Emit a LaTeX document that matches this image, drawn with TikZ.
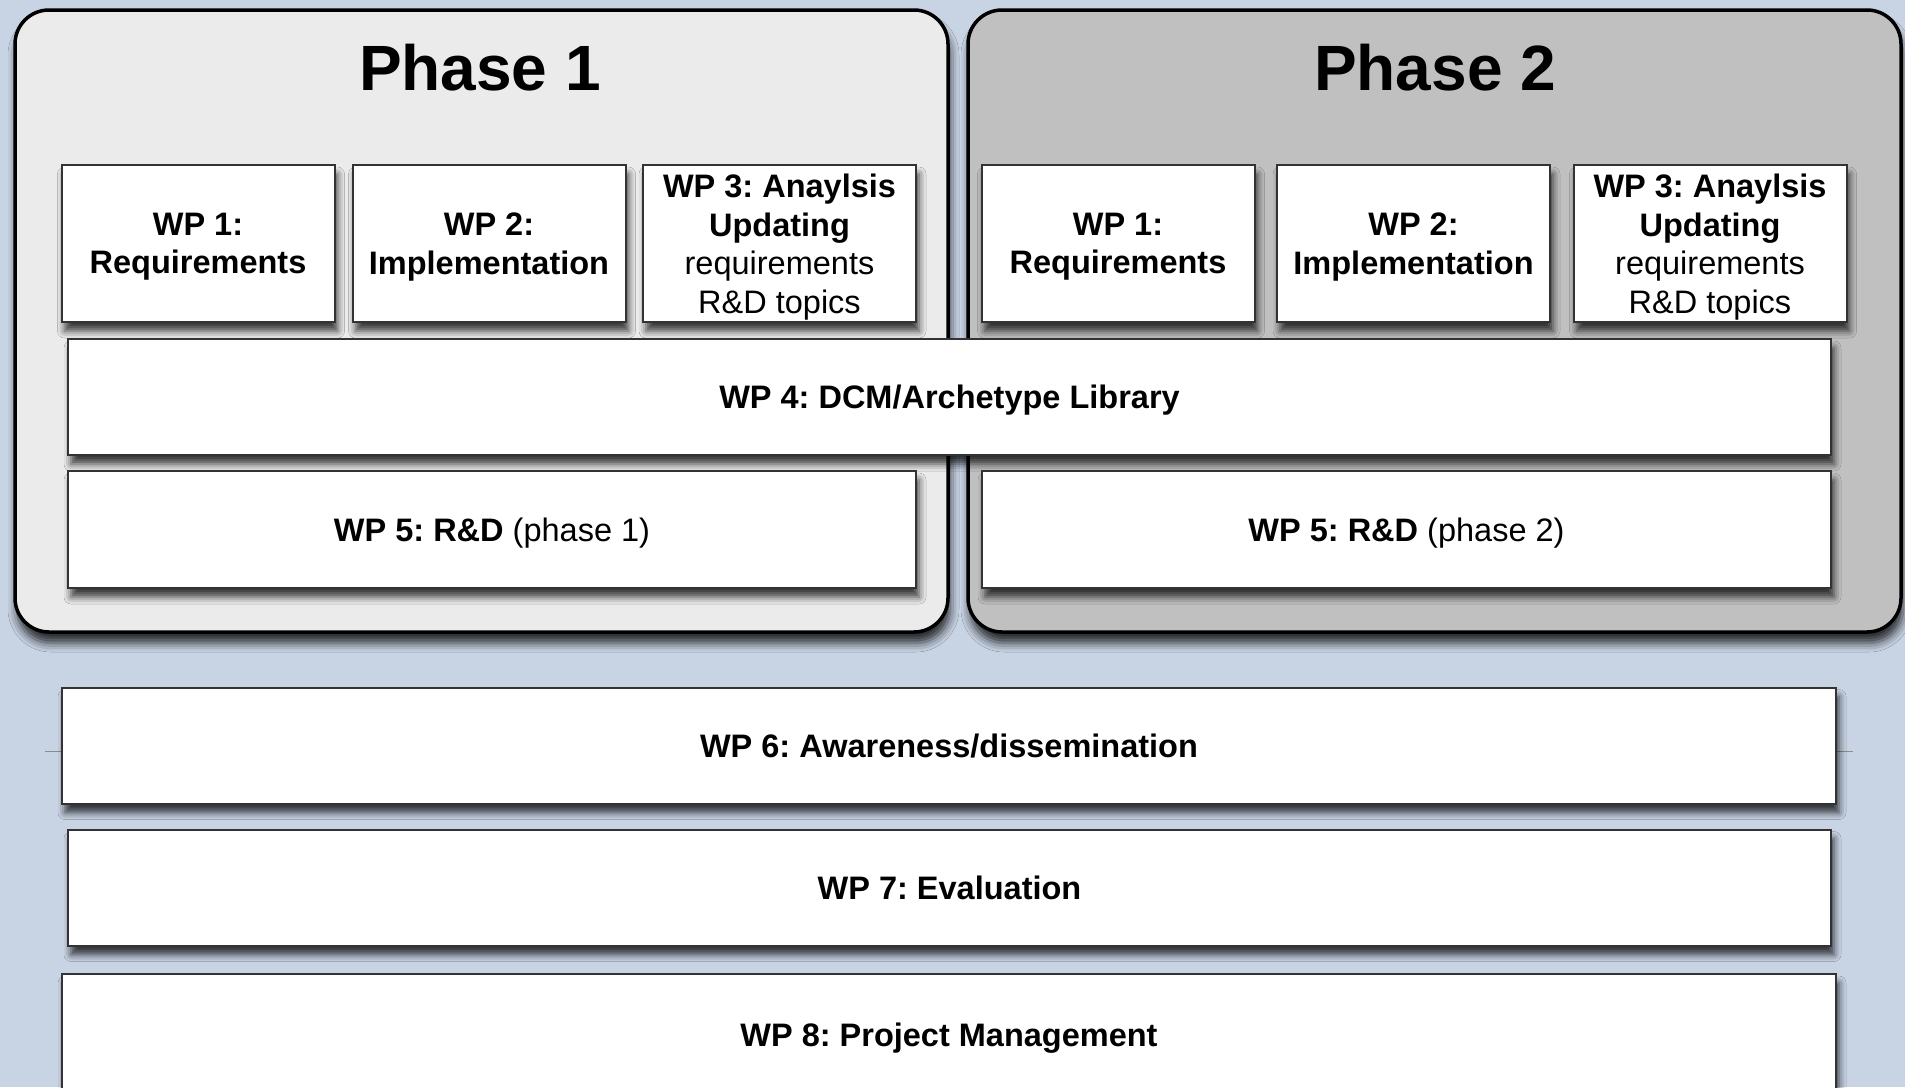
\documentclass[tikz,border=0pt]{standalone}
\usepackage{fontspec}
\setmainfont{Liberation Sans}
\usetikzlibrary{shadows.blur}
\frenchspacing
\definecolor{bgblue}{RGB}{200,211,228}
\definecolor{phaseone}{RGB}{235,235,235}
\definecolor{phasetwo}{RGB}{192,192,192}
\tikzset{
    phasebox/.style={draw=black, line width=3.5pt, rounded corners=34pt, minimum width=933pt, minimum height=622pt,
        blur shadow={shadow xshift=2pt, shadow yshift=-11pt, shadow blur radius=9pt, shadow opacity=80}},
    phasetitle/.style={anchor=base, font=\fontsize{64}{70}\selectfont\bfseries},
    wpbox/.style={draw=black!80, line width=2pt, fill=white, align=center, inner sep=0pt, text depth=0pt,
        font=\fontsize{32.5}{38.5}\selectfont\bfseries,
        blur shadow={shadow xshift=3pt, shadow yshift=-9pt, shadow blur radius=7pt, shadow opacity=75}},
    wpsmall/.style={wpbox, minimum width=273pt, minimum height=157pt, text depth=-4pt},
    wpwide/.style={wpbox, minimum width=1763pt, minimum height=116pt}
}
\begin{document}
\begin{tikzpicture}[x=1pt, y=-1pt]
    \useasboundingbox (0,0) rectangle (1905,1087);
    \fill[bgblue] (0,0) rectangle (1905,1087);
    \clip (0,0) rectangle (1905,1087);
    % fasi
    \node[phasebox, fill=phaseone] (ph1) at (481.5,321) {};
    \node[phasebox, fill=phasetwo] (ph2) at (1434.5,321) {};
    \node[phasetitle] (ph1t) at (480,90) {Phase 1};
    \node[phasetitle] (ph2t) at (1435,90) {Phase 2};
    % work packages fase 1
    \node[wpsmall] (p1wp1) at (198,243.5) {WP 1:\\Requirements};
    \node[wpsmall] (p1wp2) at (489,243.5) {WP 2:\\Implementation};
    \node[wpsmall] (p1wp3) at (779.5,243.5) {WP 3: Anaylsis\\Updating\\\mdseries requirements\\\mdseries R\&D topics};
    % work packages fase 2
    \node[wpsmall] (p2wp1) at (1118,243.5) {WP 1:\\Requirements};
    \node[wpsmall] (p2wp2) at (1413.5,243.5) {WP 2:\\Implementation};
    \node[wpsmall] (p2wp3) at (1710,243.5) {WP 3: Anaylsis\\Updating\\\mdseries requirements\\\mdseries R\&D topics};
    \node[wpwide] (wp4) at (949.5,397) {WP 4: DCM/Archetype Library};
    \node[wpbox, minimum width=848pt, minimum height=117pt] (p1wp5) at (492,529.5) {WP 5: R\&D {\mdseries(phase 1)}};
    \node[wpbox, minimum width=849pt, minimum height=117pt] (p2wp5) at (1406.5,529.5) {WP 5: R\&D {\mdseries(phase 2)}};
    % trasversali
    \draw[black!45, line width=1pt] (45,751) -- (1853,751);
    \node[wpwide, minimum width=1774pt] (wp6) at (949,745.5) {WP 6: Awareness/dissemination};
    \node[wpwide] (wp7) at (949.5,887.5) {WP 7: Evaluation};
    \node[wpwide, minimum width=1774pt, minimum height=122pt] (wp8) at (949,1035) {WP 8: Project Management};
\end{tikzpicture}
\end{document}
